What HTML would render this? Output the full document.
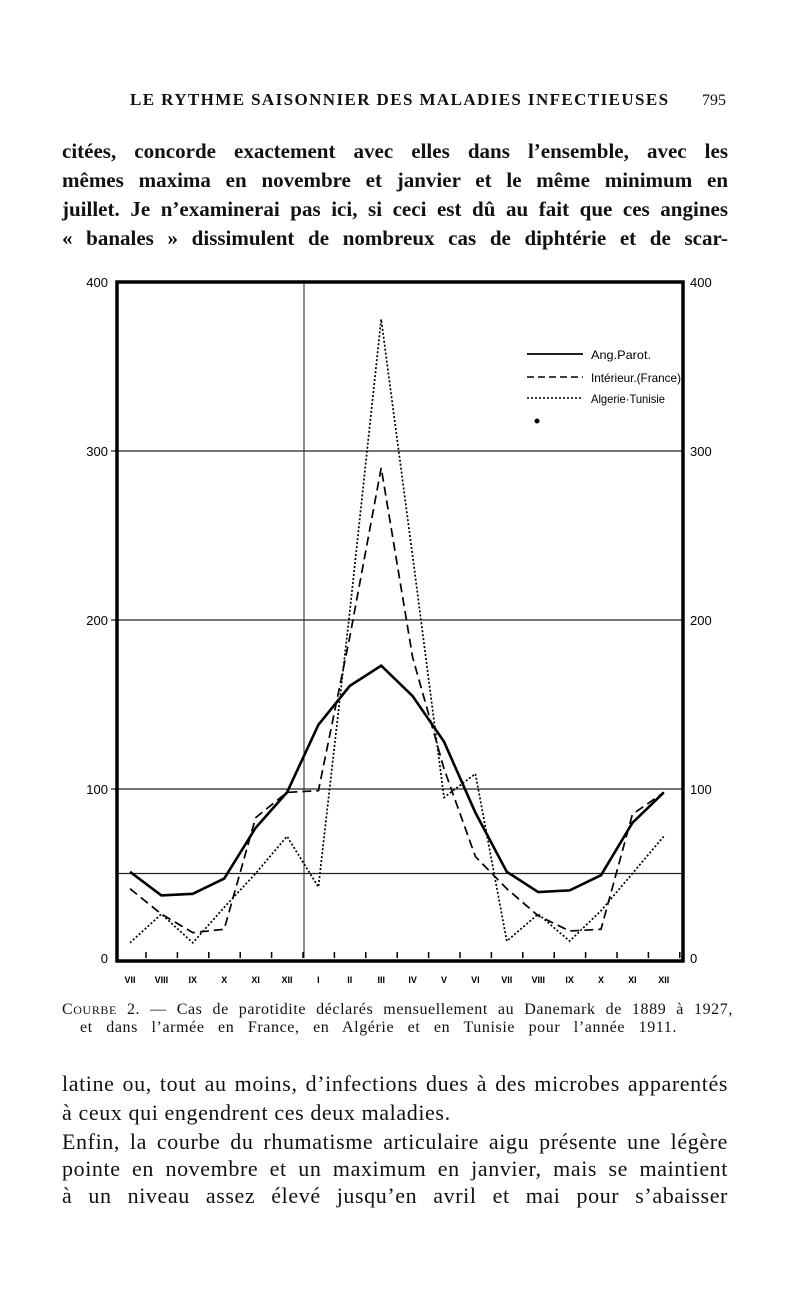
<!DOCTYPE html>
<html><head><meta charset="utf-8">
<style>
html,body{margin:0;padding:0;background:#fff;}
body{width:800px;height:1304px;position:relative;overflow:hidden;font-family:"Liberation Serif",serif;color:#111;}
.t{position:absolute;white-space:nowrap;}
.body{font-size:21px;text-align:justify;text-align-last:justify;width:666px;left:62px;}
.bold{font-weight:bold;}
.low{font-size:22px;letter-spacing:0.6px;}
</style></head>
<body>
<div class="t" style="left:130px;top:90px;font-size:17px;font-weight:bold;letter-spacing:1.4px;">LE RYTHME SAISONNIER DES MALADIES INFECTIEUSES</div>
<div class="t" style="left:702px;top:92px;font-size:16px;">795</div>

<div class="t body bold" style="top:139px;">citées, concorde exactement avec elles dans l’ensemble, avec les</div>
<div class="t body bold" style="top:168px;">mêmes maxima en novembre et janvier et le même minimum en</div>
<div class="t body bold" style="top:197px;">juillet. Je n’examinerai pas ici, si ceci est dû au fait que ces angines</div>
<div class="t body bold" style="top:226px;">« banales » dissimulent de nombreux cas de diphtérie et de scar-</div>

<svg id="chart" width="800" height="1304" style="position:absolute;left:0;top:0;" xmlns="http://www.w3.org/2000/svg"></svg>

<div class="t" style="left:62px;top:1001px;font-size:16px;letter-spacing:0.6px;width:671px;text-align:justify;text-align-last:justify;">C<span style="font-size:12px">OURBE</span> 2. — Cas de parotidite déclarés mensuellement au Danemark de 1889 à 1927,</div>
<div class="t" style="left:80px;top:1019px;font-size:16px;letter-spacing:0.6px;width:597px;text-align:justify;text-align-last:justify;">et dans l’armée en France, en Algérie et en Tunisie pour l’année 1911.</div>

<div class="t body low" style="top:1071px;">latine ou, tout au moins, d’infections dues à des microbes apparentés</div>
<div class="t low" style="left:62px;top:1100px;">à ceux qui engendrent ces deux maladies.</div>
<div class="t low" style="left:62px;top:1129px;width:666px;text-align:justify;text-align-last:justify;">Enfin, la courbe du rhumatisme articulaire aigu présente une légère</div>
<div class="t body low" style="top:1156px;">pointe en novembre et un maximum en janvier, mais se maintient</div>
<div class="t body low" style="top:1183px;">à un niveau assez élevé jusqu’en avril et mai pour s’abaisser</div>

<script>
const months = ["VII","VIII","IX","X","XI","XII","I","II","III","IV","V","VI","VII","VIII","IX","X","XI","XII"];
const angParot = [51,37,38,47,77,98,138,161,173,155,128,86,51,39,40,49,80,98];
const interieurFrance = [41,26,15,17,83,98,99,190,290,178,112,60,41,25,16,17,85,98];
const algerieTunisie = [9,26,9,30,50,72,42,205,378,238,95,109,10,26,10,28,50,72];
const yTicks = [0,100,200,300,400];

const svg = document.getElementById('chart');
const NS = 'http://www.w3.org/2000/svg';
const L=117, R=683, T=282, B=958;
const x = i => 130 + i*31.4;
const y = v => B - v*1.69;
function mk(tag, attrs){const e=document.createElementNS(NS,tag);for(const k in attrs)e.setAttribute(k,attrs[k]);svg.appendChild(e);return e;}

yTicks.forEach(v=>{
  if(v===0||v===400) return;
  const g=mk('line',{x1:L-6,x2:R,y1:y(v),y2:y(v),stroke:'#222','stroke-width':1.3});
  
  
});
const g50=mk('line',{x1:L,x2:R,y1:y(50),y2:y(50),stroke:'#222','stroke-width':1.3});


const vd=mk('line',{x1:304,x2:304,y1:T,y2:B,stroke:'#222','stroke-width':1});


const fr=mk('rect',{x:L,y:T,width:R-L,height:B-T+3,fill:'none',stroke:'#000','stroke-width':3.5});


yTicks.forEach(v=>{
  const a=mk('text',{x:108,y:y(v)+5,'text-anchor':'end','font-size':13,'font-family':'Liberation Sans, sans-serif'});
  a.textContent=v;
  
  
  const b=mk('text',{x:690,y:y(v)+5,'font-size':13,'font-family':'Liberation Sans, sans-serif'});
  b.textContent=v;
  
  
});
months.forEach((m,i)=>{
  const tk=mk('line',{x1:x(i)+16,x2:x(i)+16,y1:B,y2:B-6,stroke:'#000','stroke-width':1.5});
  
  
  const t=mk('text',{x:x(i),y:B+25,'text-anchor':'middle','font-size':9,'font-family':'Liberation Sans, sans-serif','font-weight':'bold'});
  t.textContent=m;
  
  
});
function series(data,dash,w,name){
  const p=mk('polyline',{points:data.map((v,i)=>x(i)+','+y(v)).join(' '),fill:'none',stroke:'#000','stroke-width':w,'stroke-dasharray':dash,'stroke-linejoin':'miter'});
  
  
}
series(angParot,'none',2.6,'series-ang-parot');
series(interieurFrance,'9 5',1.7,'series-interieur-france');
series(algerieTunisie,'2 2',1.7,'series-algerie-tunisie');
const leg=[['Ang.Parot.','none',1.8,354,60],['Intérieur.(France)','7 4',1.4,377,90],['Algerie·Tunisie','2 2',1.4,398,74]];
leg.forEach(l=>{
  const ln=mk('line',{x1:527,x2:583,y1:l[3],y2:l[3],stroke:'#000','stroke-width':l[2],'stroke-dasharray':l[1]});
  
  
  const t=mk('text',{x:591,y:l[3]+5,'font-size':12,'font-family':'Liberation Sans, sans-serif',textLength:l[4],lengthAdjust:'spacingAndGlyphs'});
  t.textContent=l[0];
  
  
});
const dot=mk('circle',{cx:537,cy:421,r:2.5,fill:'#000'});


</script>
</body></html>
